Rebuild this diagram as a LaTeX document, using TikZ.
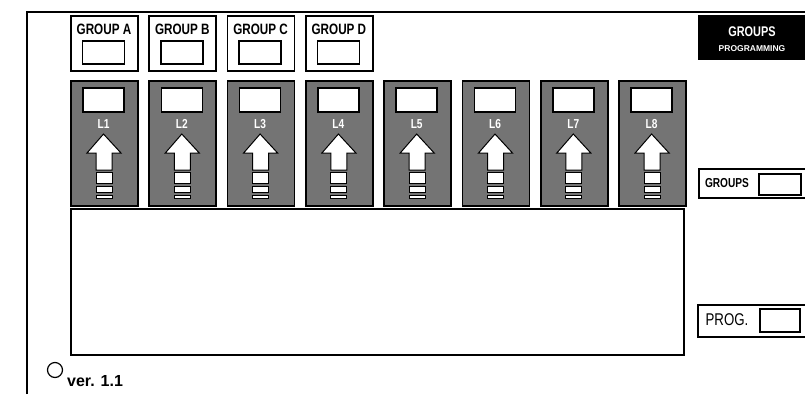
\documentclass[tikz,border=0pt]{standalone}
\usepackage{fontspec}
\setmainfont{Liberation Sans}
\newfontfamily\narrow[FakeStretch=0.78]{Liberation Sans}
\usetikzlibrary{positioning}

\definecolor{panelgray}{HTML}{747474}

\tikzset{
  cadre/.style={line width=1.6pt},
  boite/.style={draw, line width=1.6pt, rectangle, inner sep=0pt, fill=white},
  panneau/.style={draw, line width=1.8pt, rectangle, inner sep=0pt, fill=panelgray},
  txtgrp/.style={font=\narrow\bfseries\fontsize{15}{15}\selectfont, inner sep=0pt},
  txtl/.style={font=\narrow\bfseries\fontsize{13}{13}\selectfont, text=white, inner sep=0pt},
  fleche/.style={draw, fill=white, line width=1pt, line join=miter},
  barre/.style={draw, fill=white, line width=1pt}
}

\begin{document}
\begin{tikzpicture}[x=1pt,y=-1pt]
\useasboundingbox (0,0) rectangle (805,394);

% cadre general
\draw[cadre] (27,394) -- (27,12) -- (805,12);

% pas entre les colonnes
\def \Pas {78.3}

% boutons des groupes A a D
\foreach \g [count=\i from 0] in {A,B,C,D}{
  \pgfmathsetmacro\X{70+\Pas*\i}
  \node[boite, anchor=north west, minimum width=67pt, minimum height=55pt] (grp\g) at (\X,15) {};
  \node[txtgrp] (grptxt\g) at (\X+34,29) {GROUP \g};
  \node[boite, anchor=north, minimum width=42pt, minimum height=23pt] (grpbtn\g) at (\X+33.5,40) {};
}

% voies L1 a L8
\foreach \i in {1,...,8}{
  \pgfmathsetmacro\X{70+\Pas*(\i-1)}
  \node[panneau, anchor=north west, minimum width=67pt, minimum height=125pt] (voie\i) at (\X,80) {};
  \node[boite, anchor=north, minimum width=41pt, minimum height=24pt] (voiebtn\i) at (\X+33.5,87) {};
  \node[txtl] (voielab\i) at (\X+33.5,124) {L\i};
  % fleche et barres
  \draw[fleche] (\X+33.5,134) -- (\X+51,153) -- (\X+42,153) -- (\X+42,170)
    -- (\X+26,170) -- (\X+26,153) -- (\X+17,153) -- cycle;
  \draw[barre] (\X+26,172) rectangle (\X+42,183);
  \draw[barre] (\X+26,186) rectangle (\X+42,192);
  \draw[barre] (\X+26,195) rectangle (\X+42,198);
}

% ecran
\node[boite, anchor=north west, minimum width=613pt, minimum height=146pt] (ecran) at (70,208) {};

% titre
\node[fill=black, anchor=north west, minimum width=107pt, minimum height=45pt, inner sep=0pt] (titre) at (698,15) {};
\node[font=\narrow\bfseries\fontsize{14}{14}\selectfont, text=white, inner sep=0pt] (titre1) at (752,32) {GROUPS};
\node[font=\bfseries\fontsize{8.5}{8.5}\selectfont, text=white, inner sep=0pt] (titre2) at (752,49) {PROGRAMMING};

% selection des groupes
\node[boite, anchor=north west, minimum width=110pt, minimum height=29pt] (grpsel) at (698,168) {};
\node[font=\narrow\bfseries\fontsize{13}{13}\selectfont, inner sep=0pt] (grpseltxt) at (727,183) {GROUPS};
\node[boite, anchor=north west, minimum width=42pt, minimum height=21pt] (grpselbtn) at (758,173) {};

% programmation
\node[boite, anchor=north west, minimum width=111pt, minimum height=32pt] (prog) at (697,304) {};
\node[font=\narrow\fontsize{17}{17}\selectfont, inner sep=0pt] (progtxt) at (727,320) {PROG.};
\node[boite, anchor=north west, minimum width=40pt, minimum height=23pt] (progbtn) at (759,308) {};

% version
\node[draw, circle, line width=1.2pt, minimum size=15pt, inner sep=0pt] (led) at (55,370) {};
\node[font=\bfseries\fontsize{16}{16}\selectfont, anchor=west, inner sep=0pt] (version) at (67,381) {ver. 1.1};

\end{tikzpicture}
\end{document}
